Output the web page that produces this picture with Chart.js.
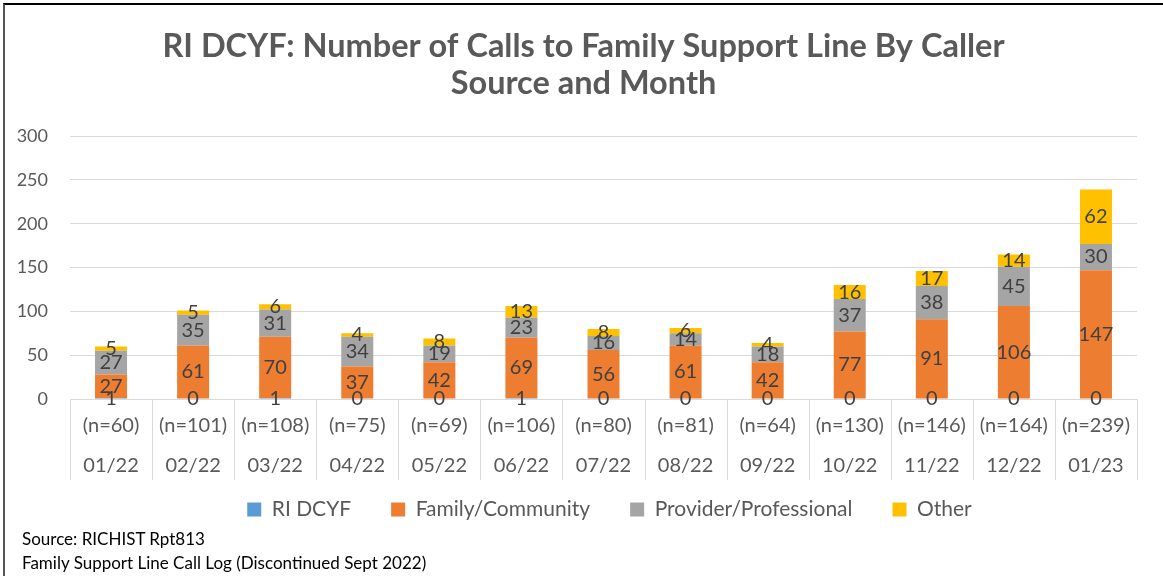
<!DOCTYPE html>
<html>
<head>
<meta charset="utf-8">
<script src="https://cdn.jsdelivr.net/npm/chart.js@4.4.1/dist/chart.umd.min.js"></script>
<style>
  html, body { margin: 0; padding: 0; background: #fff; }
  #wrap { position: relative; width: 1163px; height: 576px; overflow: hidden; }
  #frame { position: absolute; left: 3px; top: 3px; width: 1200px; height: 600px;
           border-top: 2px solid #000; border-left: 2px solid #555; }
  canvas { position: absolute; left: 0; top: 0; }
  .src { position: absolute; left: 22px; font-family: Lato, sans-serif; font-size: 17px; color: #000; }
</style>
</head>
<body>
<div id="wrap">
  <div id="frame"></div>
  <canvas id="callsChart" width="1163" height="576"></canvas>
  <div class="src" style="top:528px">Source: RICHIST Rpt813</div>
  <div class="src" style="top:552px">Family Support Line Call Log (Discontinued Sept 2022)</div>
</div>
<script>
// ── data ──
const months   = ['01/22','02/22','03/22','04/22','05/22','06/22','07/22','08/22','09/22','10/22','11/22','12/22','01/23'];
const totals   = [60,101,108,75,69,106,80,81,64,130,146,164,239];
const riDcyf   = [1,0,1,0,0,1,0,0,0,0,0,0,0];
const family   = [27,61,70,37,42,69,56,61,42,77,91,106,147];
const provider = [27,35,31,34,19,23,16,14,18,37,38,45,30];
const other    = [5,5,6,4,8,13,8,6,4,16,17,14,62];
const yTicks   = [0,50,100,150,200,250,300];

const labels = months.map((m, i) => ['(n=' + totals[i] + ')', m]);
const AXIS_H = 81;

// draws the value of every segment in its middle
const segLabels = {
  id: 'segLabels',
  afterDatasetsDraw(chart) {
    const ctx = chart.ctx;
    ctx.save();
    ctx.font = '20px Lato';
    ctx.fillStyle = '#404040';
    ctx.textAlign = 'center';
    ctx.textBaseline = 'middle';
    chart.data.datasets.forEach((ds, di) => {
      chart.getDatasetMeta(di).data.forEach((bar, i) => {
        ctx.fillText(String(ds.data[i]), bar.x, (bar.y + bar.base) / 2);
      });
    });
    ctx.restore();
  }
};

// category dividers below the axis (table look)
const catDividers = {
  id: 'catDividers',
  afterDraw(chart) {
    const x = chart.scales.x, ctx = chart.ctx;
    const step = x.width / months.length;
    ctx.save();
    ctx.strokeStyle = '#d9d9d9';
    ctx.lineWidth = 1;
    ctx.beginPath();
    for (let i = 0; i <= months.length; i++) {
      const px = Math.round(x.left + i * step) + 0.5;
      ctx.moveTo(px, x.top);
      ctx.lineTo(px, x.top + AXIS_H);
    }
    ctx.stroke();
    ctx.restore();
  }
};

// legend takes little room and sits a bit higher / further right; title nudged right
const layoutTweak = {
  id: 'layoutTweak',
  beforeLayout(chart) {
    const lg = chart.legend;
    if (lg && !lg._patched) {
      const orig = lg.fit.bind(lg);
      lg.fit = function () { orig(); this.height = 36; };
      lg._patched = true;
    }
  },
  afterLayout(chart) {
    const lg = chart.legend;
    lg.top = chart.scales.x.bottom - 21;
    lg.bottom = lg.top + 120;
    lg.left += 36; lg.right += 36;
    const tb = chart.titleBlock;
    tb.left += 10; tb.right += 10;
  }
};

new Chart(document.getElementById('callsChart'), {
  type: 'bar',
  data: {
    labels,
    datasets: [
      { label: 'RI DCYF',               data: riDcyf,   backgroundColor: '#5B9BD5' },
      { label: 'Family/Community',      data: family,   backgroundColor: '#ED7D31' },
      { label: 'Provider/Professional', data: provider, backgroundColor: '#A5A5A5' },
      { label: 'Other',                 data: other,    backgroundColor: '#FFC000' },
    ]
  },
  options: {
    responsive: false,
    animation: false,
    layout: { padding: { left: 10, right: 26, top: 28, bottom: 60 } },
    datasets: { bar: { categoryPercentage: 0.39, barPercentage: 1 } },
    plugins: {
      title: {
        display: true,
        text: ['RI DCYF: Number of Calls to Family Support Line By Caller', 'Source and Month'],
        color: '#595959',
        font: { family: 'Lato', size: 32.5, weight: 'bold', lineHeight: 1.14 },
        padding: { top: 0, bottom: 34 }
      },
      legend: {
        position: 'bottom',
        labels: { color: '#595959', font: { family: 'Lato', size: 21 }, boxWidth: 14, boxHeight: 14, padding: 40 }
      },
      tooltip: { enabled: false }
    },
    scales: {
      x: {
        stacked: true,
        afterFit: s => { s.height = AXIS_H; },
        grid: { display: false, drawTicks: false },
        border: { color: '#d9d9d9' },
        ticks: { color: '#595959', font: { family: 'Lato', size: 20, lineHeight: 2.0 }, padding: 7, maxRotation: 0, autoSkip: false }
      },
      y: {
        stacked: true,
        min: 0, max: 300,
        afterBuildTicks: s => { s.ticks = yTicks.map(v => ({ value: v })); },
        afterFit: s => { s.width = 60; },
        grid: { color: '#d9d9d9', drawTicks: false },
        border: { display: false },
        ticks: { color: '#595959', font: { family: 'Lato', size: 18 }, padding: 22 }
      }
    }
  },
  plugins: [segLabels, catDividers, layoutTweak]
});
</script>
</body>
</html>
